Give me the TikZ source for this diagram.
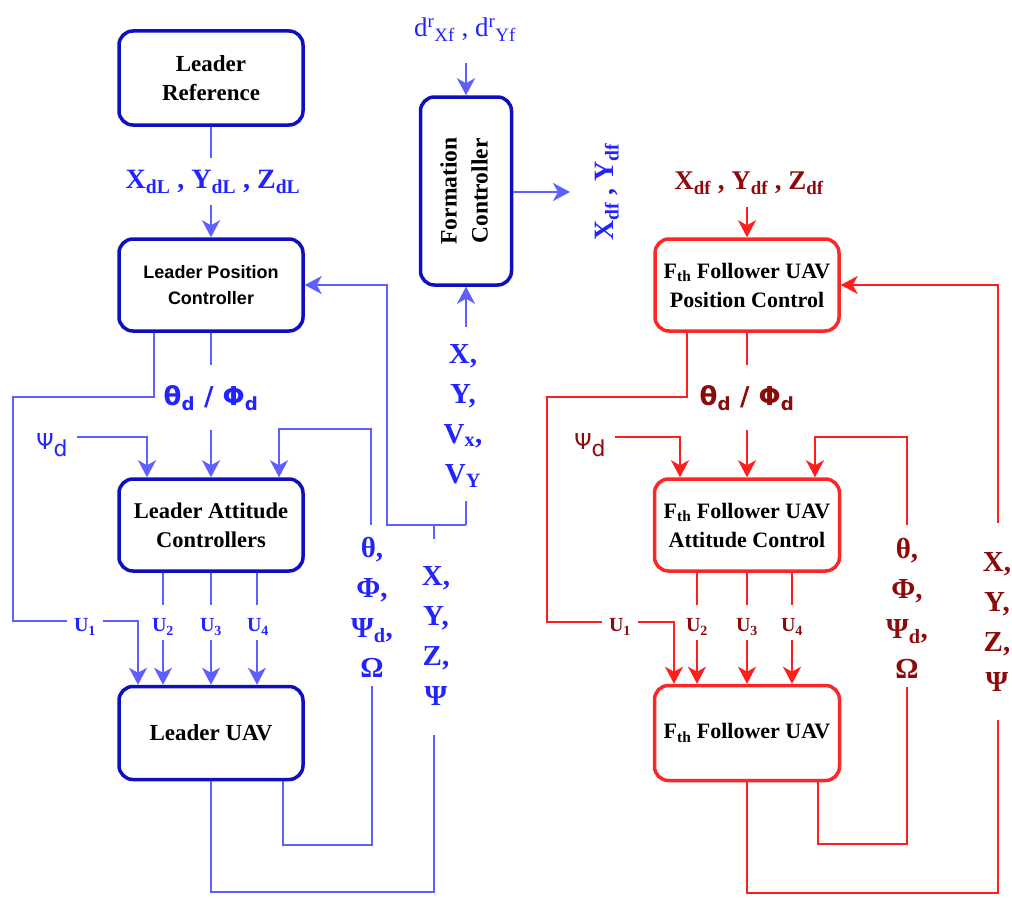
\documentclass[tikz,border=0pt]{standalone}
\usepackage{fontspec}
\setmainfont{Liberation Serif}
\newfontfamily\arial{Liberation Sans}
\newfontfamily\djs{DejaVu Sans}
\usetikzlibrary{arrows.meta}
\definecolor{lbox}{RGB}{15,15,190}
\definecolor{lline}{RGB}{95,95,255}
\definecolor{ltxt}{RGB}{35,35,255}
\definecolor{fbox}{RGB}{250,40,40}
\definecolor{fline}{RGB}{255,30,30}
\definecolor{ftxt}{RGB}{140,10,10}
\newcommand\fsz[2]{\fontsize{#1}{#2}\selectfont}
\begin{document}
\begin{tikzpicture}[x=1pt,y=-1pt,
  box/.style={draw, line width=3.5pt, rounded corners=14pt, fill=white, align=center, text=black, inner sep=0pt},
  lb/.style={box, draw=lbox},
  fb/.style={box, draw=fbox},
  ll/.style={draw=lline, line width=2pt},
  fl/.style={draw=fline, line width=2pt},
  arr/.style={-{Stealth[length=17pt,width=18pt,inset=5pt]}},
  lab/.style={inner sep=0pt, align=center, font=\fsz{29}{40}\bfseries},
  ulab/.style={inner sep=0pt, font=\fsz{20}{24}\bfseries},
  thl/.style={inner sep=0pt, font=\fsz{26}{30}\djs\bfseries},
  psl/.style={inner sep=0pt, font=\fsz{22}{26}\djs},
]
\useasboundingbox (0,0) rectangle (1012,899);

% ---------------- boxes ----------------
\node[lb, minimum width=184pt, minimum height=94pt, font=\fsz{23}{29}\bfseries] (lr) at (211,78) {Leader\\Reference};
\node[lb, minimum width=184pt, minimum height=92pt, font=\fsz{18}{26}\arial\bfseries] (lpc) at (211,285) {Leader Position\\Controller};
\node[lb, minimum width=184pt, minimum height=92pt, font=\fsz{22.5}{29}\bfseries] (lac) at (211,525) {Leader Attitude\\Controllers};
\node[lb, minimum width=184pt, minimum height=93pt, font=\fsz{23}{28}\bfseries] (luav) at (211,733) {Leader UAV};
\node[lb, minimum width=91pt, minimum height=188pt] (fc) at (466,191) {\rotatebox{90}{\fsz{23.5}{31}\bfseries\begin{tabular}{@{}c@{}}Formation\\Controller\end{tabular}}};
\node[fb, minimum width=184pt, minimum height=92pt, font=\fsz{22}{29}\bfseries] (fpc) at (747,285) {F\textsubscript{th} Follower UAV\\Position Control};
\node[fb, minimum width=185pt, minimum height=92pt, font=\fsz{22}{29}\bfseries] (fac) at (747,525) {F\textsubscript{th} Follower UAV\\Attitude Control};
\node[fb, minimum width=185pt, minimum height=95pt, font=\fsz{22}{28}\bfseries] (fuav) at (747,733) {F\textsubscript{th} Follower UAV};

% ---------------- labels (leader) ----------------
\node[lab, text=ltxt, font=\fsz{28}{34}\bfseries] (xdl) at (213,182) {X\textsubscript{dL} , Y\textsubscript{dL} , Z\textsubscript{dL}};
\node[thl, text=ltxt] (lthd) at (211,398) {θ\textsubscript{d} / Φ\textsubscript{d}};
\node[psl, text=ltxt] (lpsi) at (52,445) {Ψ\raisebox{-0.35em}{d}};
\node[ulab, text=ltxt] (lu1) at (85,627) {U\textsubscript{1}};
\node[ulab, text=ltxt] (lu2) at (163,627) {U\textsubscript{2}};
\node[ulab, text=ltxt] (lu3) at (211,627) {U\textsubscript{3}};
\node[ulab, text=ltxt] (lu4) at (258,627) {U\textsubscript{4}};
\node[lab, text=ltxt] (lang) at (372,607) {θ,\\Φ,\\Ψ\textsubscript{d},\\Ω};
\node[lab, text=ltxt] (lpos) at (436,636) {X,\\Y,\\Z,\\Ψ};
\node[lab, text=ltxt] (lvel) at (463,416) {X,\\Y,\\V\textsubscript{x},\\V\textsubscript{Y}};
\node[inner sep=0pt, text=ltxt, font=\fsz{27}{30}] (dr) at (465,30) {d\textsuperscript{r}\textsubscript{Xf} , d\textsuperscript{r}\textsubscript{Yf}};
\node[inner sep=0pt, text=ltxt, font=\fsz{28}{30}\bfseries, rotate=90] (xdf) at (607,192) {X\textsubscript{df} , Y\textsubscript{df}};

% ---------------- labels (follower) ----------------
\node[lab, text=ftxt, font=\fsz{27}{34}\bfseries] (fxdf) at (749,183) {X\textsubscript{df} , Y\textsubscript{df} , Z\textsubscript{df}};
\node[thl, text=ftxt] (fthd) at (747,398) {θ\textsubscript{d} / Φ\textsubscript{d}};
\node[psl, text=ftxt] (fpsi) at (590,445) {Ψ\raisebox{-0.35em}{d}};
\node[ulab, text=ftxt] (fu1) at (620,627) {U\textsubscript{1}};
\node[ulab, text=ftxt] (fu2) at (697,627) {U\textsubscript{2}};
\node[ulab, text=ftxt] (fu3) at (747,627) {U\textsubscript{3}};
\node[ulab, text=ftxt] (fu4) at (792,627) {U\textsubscript{4}};
\node[lab, text=ftxt] (fang) at (907,608) {θ,\\Φ,\\Ψ\textsubscript{d},\\Ω};
\node[lab, text=ftxt] (fpos) at (997,622) {X,\\Y,\\Z,\\Ψ};

% ---------------- coordinates (leader) ----------------
\coordinate (a1) at (211,158);
\coordinate (a2) at (211,205);
\coordinate (b1) at (211,365);
\coordinate (b2) at (211,430);
\coordinate (c1) at (154,397);
\coordinate (c2) at (13,621);
\coordinate (c3) at (67,621);
\coordinate (c4) at (103,621);
\coordinate (c5) at (138,621);
\coordinate (d1) at (77,437);
\coordinate (d2) at (147,437);
\coordinate (e1) at (371,525);
\coordinate (e2) at (279,429);
\coordinate (g1) at (434,539);
\coordinate (g2) at (434,525);
\coordinate (g3) at (387,525);
\coordinate (g4) at (466,525);
\coordinate (g5) at (466,501);
\coordinate (g6) at (466,327);
\coordinate (h1) at (434,735);
\coordinate (h2) at (211,892);
\coordinate (k1) at (283,845);
\coordinate (k2) at (372,686);
\coordinate (m1) at (466,63);
\coordinate (m2) at (570,192);
\foreach \x/\n in {163/2,211/3,257/4}{
  \coordinate (u\n a) at (\x,605);
  \coordinate (u\n b) at (\x,640);
}
% ---------------- leader connectors ----------------
\draw[ll] (lr.south) -- (a1);
\draw[ll,arr] (a2) -- (lpc.north);
\draw[ll] (lpc.south) -- (b1);
\draw[ll,arr] (b2) -- (lac.north);
\draw[ll] (lpc.south -| c1) -- (c1) -| (c2) -- (c3);
\draw[ll,arr] (c4) -- (c5) -- (luav.north -| c5);
\draw[ll,arr] (d1) -- (d2) -- (lac.north -| d2);
\draw[ll,arr] (e1) |- (e2) -- (lac.north -| e2);
\draw[ll] (g1) -- (g2);
\draw[ll,arr] (g4) -- (g3) |- (lpc.east);
\draw[ll] (g4) -- (g5);
\draw[ll,arr] (g6) -- (fc.south);
\draw[ll] (luav.south) -- (h2) -| (h1);
\draw[ll] (luav.south -| k1) -- (k1) -| (k2);
\draw[ll,arr] (m1) -- (fc.north);
\draw[ll,arr] (fc.east |- m2) -- (m2);
\foreach \n in {2,3,4}{
  \draw[ll] (lac.south -| u\n a) -- (u\n a);
  \draw[ll,arr] (u\n b) -- (luav.north -| u\n b);
}

% ---------------- coordinates (follower) ----------------
\coordinate (fa2) at (747,207);
\coordinate (fb1) at (747,365);
\coordinate (fb2) at (747,430);
\coordinate (fc1) at (687,397);
\coordinate (fc2) at (547,622);
\coordinate (fc3) at (602,622);
\coordinate (fc4) at (638,622);
\coordinate (fc5) at (674,622);
\coordinate (fd1) at (615,437);
\coordinate (fd2) at (680,437);
\coordinate (fe1) at (907,525);
\coordinate (fe2) at (815,437);
\coordinate (fg1) at (998,523);
\coordinate (fh1) at (998,720);
\coordinate (fh2) at (747,893);
\coordinate (fk1) at (818,844);
\coordinate (fk2) at (907,687);
\foreach \x/\n in {697/2,747/3,792/4}{
  \coordinate (fu\n a) at (\x,605);
  \coordinate (fu\n b) at (\x,640);
}
% ---------------- follower connectors ----------------
\draw[fl,arr] (fa2) -- (fpc.north);
\draw[fl,arr] (fg1) |- (fpc.east);
\draw[fl] (fpc.south) -- (fb1);
\draw[fl,arr] (fb2) -- (fac.north);
\draw[fl] (fpc.south -| fc1) -- (fc1) -| (fc2) -- (fc3);
\draw[fl,arr] (fc4) -- (fc5) -- (fuav.north -| fc5);
\draw[fl,arr] (fd1) -- (fd2) -- (fac.north -| fd2);
\draw[fl,arr] (fe1) |- (fe2) -- (fac.north -| fe2);
\draw[fl] (fuav.south) -- (fh2) -| (fh1);
\draw[fl] (fuav.south -| fk1) -- (fk1) -| (fk2);
\foreach \n in {2,3,4}{
  \draw[fl] (fac.south -| fu\n a) -- (fu\n a);
  \draw[fl,arr] (fu\n b) -- (fuav.north -| fu\n b);
}
\end{tikzpicture}
\end{document}
